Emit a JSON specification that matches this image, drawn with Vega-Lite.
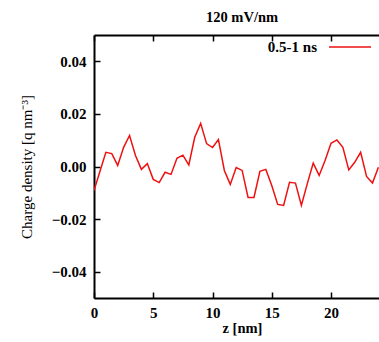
{
  "$schema": "https://vega.github.io/schema/vega-lite/v6.json",
  "width": 285,
  "height": 263,
  "autosize": {"type": "none"},
  "padding": {"left": 94, "top": 35, "right": 0, "bottom": 44},
  "background": "white",
  "title": {"text": "120 mV/nm", "font": "Liberation Serif", "fontSize": 14.5, "fontWeight": "bold", "color": "black", "anchor": "middle", "frame": "group", "dx": 5.5, "offset": 0},
  "config": {
    "view": {"stroke": null},
    "axis": {
      "domainColor": "black", "domainWidth": 2, "tickColor": "black", "tickWidth": 1.5,
      "grid": false, "labelFont": "Liberation Serif", "labelFontSize": 15, "labelFontWeight": "bold", "labelColor": "black",
      "titleFont": "Liberation Serif", "titleColor": "black"
    }
  },
  "data": {"values": [
    {"z": 0, "rho": -0.0091}, {"z": 0.5, "rho": -0.0019}, {"z": 1, "rho": 0.0054}, {"z": 1.5, "rho": 0.0049},
    {"z": 2, "rho": 0.0004}, {"z": 2.5, "rho": 0.0073}, {"z": 3, "rho": 0.0118}, {"z": 3.5, "rho": 0.0042},
    {"z": 4, "rho": -0.0011}, {"z": 4.5, "rho": 0.0011}, {"z": 5, "rho": -0.0049}, {"z": 5.5, "rho": -0.0061},
    {"z": 6, "rho": -0.0022}, {"z": 6.5, "rho": -0.003}, {"z": 7, "rho": 0.0031}, {"z": 7.5, "rho": 0.0043},
    {"z": 8, "rho": 0.0006}, {"z": 8.5, "rho": 0.0111}, {"z": 9, "rho": 0.0164}, {"z": 9.5, "rho": 0.0087},
    {"z": 10, "rho": 0.0072}, {"z": 10.5, "rho": 0.0102}, {"z": 11, "rho": -0.0015}, {"z": 11.5, "rho": -0.0068},
    {"z": 12, "rho": -0.0004}, {"z": 12.5, "rho": -0.0015}, {"z": 13, "rho": -0.0118}, {"z": 13.5, "rho": -0.0118},
    {"z": 14, "rho": -0.0018}, {"z": 14.5, "rho": -0.0011}, {"z": 15, "rho": -0.0072}, {"z": 15.5, "rho": -0.0144},
    {"z": 16, "rho": -0.0148}, {"z": 16.5, "rho": -0.006}, {"z": 17, "rho": -0.0063}, {"z": 17.5, "rho": -0.0148},
    {"z": 18, "rho": -0.0065}, {"z": 18.5, "rho": 0.0013}, {"z": 19, "rho": -0.0034}, {"z": 19.5, "rho": 0.0023},
    {"z": 20, "rho": 0.0088}, {"z": 20.5, "rho": 0.0101}, {"z": 21, "rho": 0.0073}, {"z": 21.5, "rho": -0.0013},
    {"z": 22, "rho": 0.0016}, {"z": 22.5, "rho": 0.0054}, {"z": 23, "rho": -0.0038}, {"z": 23.5, "rho": -0.0063},
    {"z": 24, "rho": -0.0003}
  ]},
  "layer": [
    {
      "mark": {"type": "line", "strokeWidth": 1.5, "clip": true},
      "encoding": {
        "x": {"field": "z", "type": "quantitative", "scale": {"domain": [0, 24.05], "nice": false},
          "axis": {"orient": "bottom", "values": [0, 5, 10, 15, 20], "format": "d", "tickSize": -6, "labelPadding": 13, "labelFlush": false,
            "title": "z [nm]", "titleFontSize": 14.5, "titleFontWeight": "bold", "titleX": 148, "titleAlign": "center", "titlePadding": 1}},
        "y": {"field": "rho", "type": "quantitative", "scale": {"domain": [-0.05, 0.05], "nice": false},
          "axis": {"values": [-0.04, -0.02, 0, 0.02, 0.04], "format": ".2f", "tickSize": -6, "labelPadding": 14,
            "title": "Charge density [q nm⁻³]", "titleFontSize": 15, "titleFontWeight": "normal", "titlePadding": 17}},
        "color": {"datum": "0.5-1 ns", "type": "nominal", "scale": {"range": ["#ee1111"]},
          "legend": {"orient": "none", "legendX": 234, "legendY": -10, "title": null, "symbolType": "stroke", "symbolSize": 1764,
            "symbolStrokeWidth": 1.5, "labelAlign": "right", "labelOffset": -55, "labelFont": "Liberation Serif",
            "labelFontSize": 15, "labelFontWeight": "bold", "labelColor": "black"}}
      }
    },
    {
      "mark": {"type": "rule", "opacity": 0},
      "encoding": {
        "x": {"field": "z", "type": "quantitative", "scale": {"domain": [0, 24.05], "nice": false},
          "axis": {"orient": "top", "values": [0, 5, 10, 15, 20], "labels": false, "tickSize": -6, "title": null}}
      }
    }
  ],
  "resolve": {"axis": {"x": "independent"}}
}
